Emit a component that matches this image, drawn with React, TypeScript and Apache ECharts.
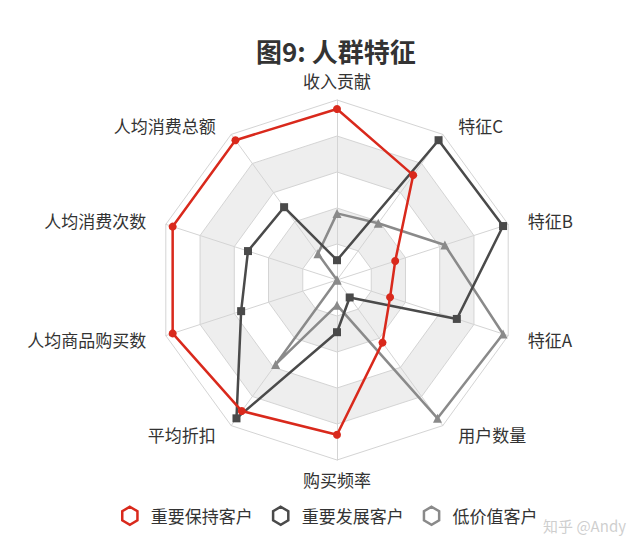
import React, { useEffect, useRef } from 'react'
import * as echarts from 'echarts'

// indicators listed counter-clockwise from the top, as the radar lays them out
const indicatorNames = [
    '收入贡献',
    '人均消费总额',
    '人均消费次数',
    '人均商品购买数',
    '平均折扣',
    '购买频率',
    '用户数量',
    '特征A',
    '特征B',
    '特征C',
]

const seriesNames = ['重要保持客户', '重要发展客户', '低价值客户']

const keepValues = [0.95, 0.96, 0.96, 0.96, 0.9, 0.86, 0.43, 0.31, 0.34, 0.72]
const developValues = [0.11, 0.5, 0.52, 0.56, 0.95, 0.29, 0.12, 0.7, 0.97, 0.96]
const lowValues = [0.37, 0.18, 0, 0, 0.58, 0.14, 0.95, 0.97, 0.63, 0.39]

const colors = ['#d9291c', '#4a4a4a', '#8a8a8a']
const symbols = ['circle', 'rect', 'triangle']

const hexIcon = 'path://M8 0L15.6 4.5L15.6 13.5L8 18L0.4 13.5L0.4 4.5Z'

const App: React.FC = () => {
    const chartRef = useRef<HTMLDivElement | null>(null)

    useEffect(() => {
        if (!chartRef.current) return
        const chart = echarts.init(chartRef.current, null, { renderer: 'svg' })

        const values = [keepValues, developValues, lowValues]
        // draw the low value group first so the red one ends up on top
        const order = [2, 1, 0]

        chart.setOption({
            animation: false,
            backgroundColor: '#fff',
            title: {
                text: '图9: 人群特征',
                left: 251,
                top: 32,
                textStyle: {
                    fontSize: 26,
                    fontWeight: 'bold',
                    color: '#333',
                    fontFamily: 'Noto Sans CJK SC',
                },
            },
            legend: {
                bottom: 21,
                left: 116,
                itemWidth: 16,
                itemHeight: 18,
                itemGap: 19,
                textStyle: {
                    fontSize: 17,
                    color: '#333',
                    fontFamily: 'Noto Sans CJK SC',
                    padding: [0, 0, 0, 8],
                },
                data: seriesNames.map((name, i) => ({
                    name,
                    icon: hexIcon,
                    itemStyle: { color: '#fff', borderColor: colors[i], borderWidth: 2.5 },
                })),
            },
            radar: {
                center: [337, 280],
                radius: 180,
                startAngle: 90,
                splitNumber: 5,
                shape: 'polygon',
                indicator: indicatorNames.map((name) => ({ name, min: 0, max: 1 })),
                axisName: {
                    color: '#333',
                    fontSize: 17,
                    fontFamily: 'Noto Sans CJK SC',
                    padding: [0, 9],
                },
                nameGap: 11,
                splitArea: {
                    areaStyle: { color: ['#fff', '#eeeeee', '#fff', '#eeeeee', '#fff'] },
                },
                splitLine: { lineStyle: { color: '#d4d4d4', width: 1 } },
                axisLine: { lineStyle: { color: '#d4d4d4', width: 1 } },
            },
            // watermark in the bottom right corner
            graphic: [
                {
                    type: 'text',
                    right: 14,
                    bottom: 19,
                    z: 100,
                    style: {
                        text: '知乎 @Andy',
                        fontSize: 15,
                        fontFamily: 'Noto Sans CJK SC',
                        fill: 'rgba(190, 190, 190, 0.75)',
                    },
                },
            ],
            series: [
                {
                    type: 'radar',
                    symbolSize: 8,
                    data: order.map((i) => ({
                        name: seriesNames[i],
                        value: values[i],
                        symbol: symbols[i],
                        symbolSize: i === 2 ? 9 : 8,
                        lineStyle: { color: colors[i], width: 2.5 },
                        itemStyle: { color: colors[i] },
                    })),
                },
            ],
        })

        return () => {
            chart.dispose()
        }
    }, [])

    return (
        <div
            ref={chartRef}
            style={{ position: 'absolute', left: 0, top: 0, width: '640px', height: '552px' }}
        />
    )
}

export default App
